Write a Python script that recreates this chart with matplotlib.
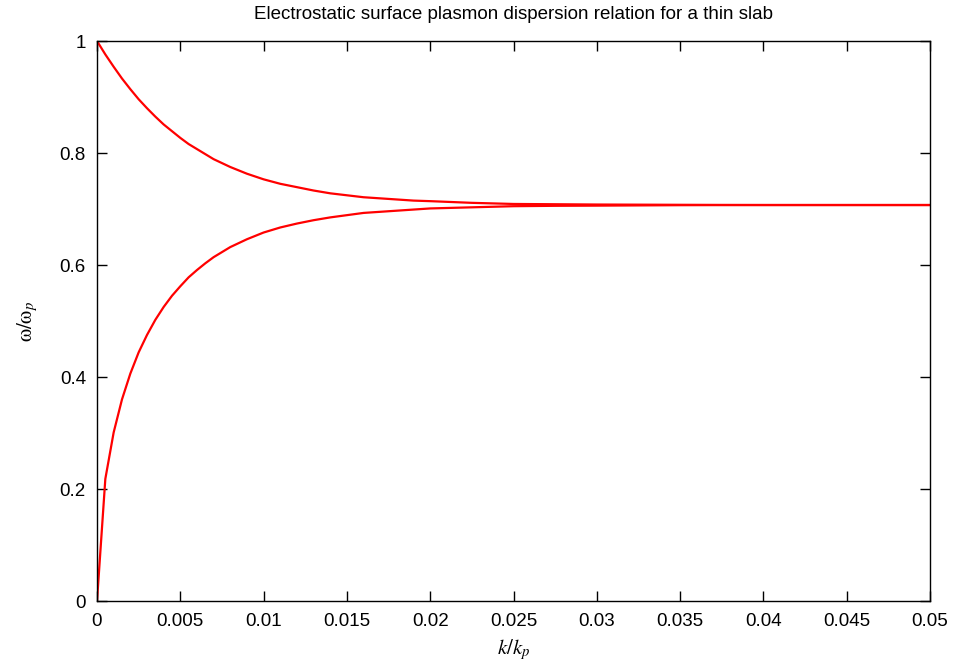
import matplotlib
matplotlib.use("Agg")
import matplotlib.pyplot as plt

plt.rcParams['font.family'] = ['Liberation Sans', 'DejaVu Sans']
plt.rcParams['mathtext.fontset'] = 'stix'

# значения
k = [0, 0.0005, 0.001, 0.0015, 0.002, 0.0025, 0.003, 0.0035, 0.004, 0.0045,
     0.005, 0.0055, 0.006, 0.0065, 0.007, 0.0075, 0.008, 0.0085, 0.009,
     0.0095, 0.01, 0.011, 0.012, 0.013, 0.014, 0.015, 0.016, 0.017, 0.018,
     0.019, 0.02, 0.0225, 0.025, 0.0275, 0.03, 0.035, 0.04, 0.05]
w_upper = [1.0, 0.976, 0.954, 0.933, 0.914, 0.896, 0.880, 0.865, 0.851, 0.839,
           0.827, 0.816, 0.807, 0.798, 0.789, 0.782, 0.775, 0.769, 0.763,
           0.758, 0.753, 0.745, 0.739, 0.733, 0.728, 0.7245, 0.721, 0.719, 0.717,
           0.715, 0.714, 0.711, 0.709, 0.7085, 0.708, 0.7075, 0.7071, 0.7071]
w_lower = [0.0, 0.218, 0.301, 0.360, 0.406, 0.444, 0.475, 0.502, 0.525, 0.545,
           0.562, 0.578, 0.591, 0.603, 0.614, 0.623, 0.632, 0.639, 0.646,
           0.652, 0.658, 0.667, 0.674, 0.680, 0.685, 0.689, 0.693, 0.695, 0.697,
           0.699, 0.701, 0.703, 0.705, 0.7057, 0.706, 0.7068, 0.7071, 0.7071]

xticks = [0, 0.005, 0.01, 0.015, 0.02, 0.025, 0.03, 0.035, 0.04, 0.045, 0.05]
xticklabels = ['0', '0.005', '0.01', '0.015', '0.02', '0.025', '0.03',
               '0.035', '0.04', '0.045', '0.05']
yticks = [0, 0.2, 0.4, 0.6, 0.8, 1]
yticklabels = ['0', '0.2', '0.4', '0.6', '0.8', '1']

fig = plt.figure(figsize=(9.56, 6.64), dpi=100)
ax = fig.add_axes([97 / 956, 1 - 601 / 664, (930 - 97) / 956, (601 - 41) / 664])

ax.plot(k, w_upper, color='red', lw=1.6)
ax.plot(k, w_lower, color='red', lw=1.6)

ax.set_xlim(0, 0.05)
ax.set_ylim(0, 1)
ax.set_xticks(xticks)
ax.set_xticklabels(xticklabels)
ax.set_yticks(yticks)
ax.set_yticklabels(yticklabels)
ax.tick_params(axis='x', pad=9)
ax.tick_params(direction='in', length=7, width=1, top=True, right=True,
               labelsize=13.5)
ax.tick_params(axis='y', pad=8)
for s in ax.spines.values():
    s.set_linewidth(1)

ax.set_title('Electrostatic surface plasmon dispersion relation for a thin slab',
             fontsize=13.5, pad=16)
ax.set_xlabel(r'$k/k_p$', fontsize=15, labelpad=5)
ax.set_ylabel(r'$\mathrm{\omega}/\mathrm{\omega}_p$', fontsize=15, labelpad=14)

fig.savefig('out.png', dpi=100)
